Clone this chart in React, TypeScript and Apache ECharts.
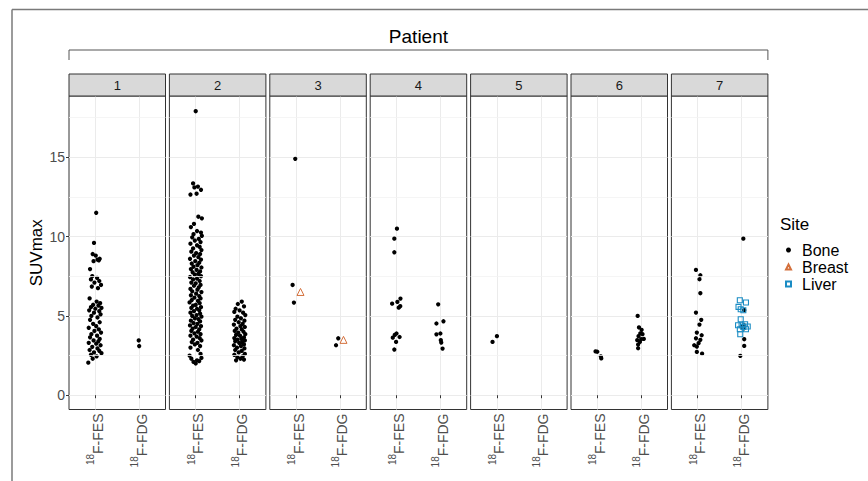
import React, { useEffect, useRef } from 'react';
import * as echarts from 'echarts';

// ---------- data (jitter offset, SUVmax) ----------
const patients = ['1', '2', '3', '4', '5', '6', '7'];
const tracerSup = '18';
const tracerMain = ['F-FES', 'F-FDG'];
const yTicks = [0, 5, 10, 15];
const yMinor = [2.5, 7.5, 12.5, 17.5];
const sites = ['Bone', 'Breast', 'Liver'];

const p1BoneFes = [[0.02,11.5],[-0.03,9.6],[-0.06,8.9],[0.01,8.8],[0.1,8.6],[0.05,8.55],[-0.04,8.45],[0.08,8.5],[-0.12,7.95],[-0.07,7.5],[0.04,7.4],[-0.1,7.3],[0.09,7.2],[-0.02,7.1],[0.13,6.95],[-0.08,6.85],[0.06,6.75],[-0.13,6.1],[0.03,5.9],[0.11,5.8],[-0.05,5.7],[0.07,5.65],[-0.1,5.55],[0.14,5.5],[0.0,5.45],[-0.14,5.35],[0.09,5.3],[-0.03,5.2],[0.12,5.1],[-0.09,5.0],[0.05,4.9],[-0.12,4.75],[0.1,4.6],[-0.05,4.5],[0.02,4.35],[-0.15,4.25],[0.08,4.15],[-0.02,4.05],[0.13,3.95],[-0.09,3.85],[0.04,3.75],[-0.12,3.65],[0.1,3.55],[-0.04,3.45],[0.07,3.4],[-0.15,3.3],[0.02,3.25],[0.12,3.15],[-0.07,3.05],[0.05,2.95],[-0.13,2.85],[0.09,2.8],[-0.03,2.7],[0.14,2.65],[-0.1,2.55],[0.03,2.45],[-0.06,2.3],[-0.16,2.05]];
const p1BoneFdg = [[-0.01,3.45],[0.0,3.1]];

const p2BoneFes = [[0.0,17.9],[-0.06,13.35],[0.05,13.15],[0.12,12.95],[-0.03,13.1],[-0.12,12.65],[0.02,12.7],[0.06,11.25],[0.14,11.15],[-0.04,10.8],[-0.11,10.6],[0.03,10.35],[0.12,10.25],[-0.05,10.15],[0.14,10.05],[-0.08,9.95],[0.07,9.85],[-0.02,9.75],[0.11,9.65],[-0.12,9.55],[0.03,9.45],[0.09,9.35],[-0.06,9.25],[0.13,9.15],[-0.1,9.05],[0.01,8.95],[0.1,8.9],[-0.04,8.8],[0.06,8.7],[-0.13,8.6],[0.12,8.55],[-0.01,8.45],[0.08,8.35],[-0.09,8.3],[0.04,8.2],[-0.05,8.1],[0.13,8.05],[-0.11,7.95],[0.02,7.9],[0.1,7.8],[-0.07,7.75],[0.06,7.65],[-0.02,7.6],[0.12,7.5],[-0.13,7.45],[0.03,7.35],[-0.06,7.3],[0.09,7.2],[-0.1,7.1],[0.0,7.05],[0.11,6.95],[-0.04,6.9],[0.07,6.8],[-0.12,6.7],[0.04,6.65],[-0.08,6.55],[0.13,6.5],[0.01,6.4],[-0.11,6.3],[0.08,6.25],[-0.03,6.15],[0.11,6.1],[-0.09,6.0],[0.05,5.95],[-0.14,5.85],[0.09,5.8],[0.0,5.7],[-0.06,5.65],[0.12,5.55],[-0.1,5.5],[0.03,5.45],[0.08,5.35],[-0.04,5.3],[-0.12,5.2],[0.1,5.15],[0.02,5.05],[-0.08,5.0],[0.13,4.95],[-0.02,4.85],[0.06,4.8],[-0.11,4.7],[0.1,4.65],[-0.05,4.55],[0.04,4.5],[-0.13,4.4],[0.12,4.35],[0.0,4.3],[-0.07,4.2],[0.08,4.15],[-0.1,4.05],[0.05,4.0],[-0.03,3.9],[0.11,3.85],[-0.12,3.75],[0.02,3.7],[0.09,3.6],[-0.06,3.5],[0.13,3.45],[-0.09,3.35],[0.04,3.3],[-0.02,3.2],[0.1,3.1],[-0.12,3.0],[0.05,2.85],[0.11,2.6],[-0.14,2.5],[0.13,2.35],[-0.1,2.3],[0.03,2.2],[-0.05,2.1],[0.08,2.15],[0.0,2.0]];
const p2BoneFdg = [[0.05,5.9],[-0.04,5.75],[0.1,5.6],[-0.09,5.45],[0.0,5.35],[-0.12,5.25],[0.08,5.2],[0.13,5.05],[-0.05,4.95],[0.03,4.85],[-0.1,4.75],[0.11,4.7],[-0.02,4.6],[0.07,4.5],[-0.13,4.45],[0.02,4.35],[0.12,4.3],[-0.07,4.2],[0.05,4.15],[-0.11,4.05],[0.09,4.0],[-0.03,3.95],[0.13,3.85],[-0.08,3.8],[0.01,3.75],[0.1,3.65],[-0.12,3.6],[0.04,3.55],[-0.05,3.5],[0.12,3.45],[-0.1,3.4],[0.06,3.35],[-0.01,3.3],[0.1,3.2],[-0.13,3.15],[0.03,3.1],[-0.06,3.0],[0.11,2.95],[-0.1,2.85],[0.05,2.8],[-0.02,2.7],[0.12,2.6],[-0.12,2.55],[0.07,2.45],[-0.05,2.4],[0.02,2.3],[0.1,2.25],[-0.08,2.2]];

const p3BoneFes = [[-0.02,14.9],[-0.08,6.95],[-0.05,5.84]];
const p3BoneFdg = [[-0.04,3.59],[-0.09,3.15]];
const p3BreastFes = [[0.1,6.51]];
const p3BreastFdg = [[0.08,3.49]];

const p4BoneFes = [[0.01,10.5],[-0.05,9.87],[-0.05,9.01],[-0.1,5.77],[0.09,6.09],[0.02,5.88],[0.05,5.52],[0.085,5.61],[0.0,3.89],[-0.04,3.8],[-0.085,3.63],[0.07,3.67],[-0.01,3.36],[-0.05,2.88]];
const p4BoneFdg = [[-0.05,5.73],[-0.09,4.52],[0.07,4.66],[-0.09,3.84],[0.0,3.89],[0.01,3.47],[0.02,3.32],[0.05,2.94]];

const p5BoneFes = [[0.0,3.72],[-0.1,3.36]];
const p5BoneFdg: number[][] = [];

const p6BoneFes = [[-0.04,2.76],[0.0,2.74],[0.08,2.45],[0.09,2.32]];
const p6BoneFdg = [[-0.08,5.0],[-0.05,4.27],[0.01,4.12],[-0.02,3.9],[0.03,3.85],[-0.06,3.72],[0.06,3.55],[0.0,3.53],[-0.09,3.47],[-0.03,3.36],[-0.07,3.19],[-0.07,2.96]];

const p7BoneFes = [[-0.04,7.9],[0.06,7.56],[0.04,7.31],[0.06,6.43],[-0.04,5.21],[0.08,4.75],[0.04,4.45],[-0.02,3.95],[0.09,3.78],[-0.04,3.59],[0.06,3.49],[0.02,3.28],[-0.08,3.15],[-0.02,3.07],[-0.02,2.73],[0.1,2.62]];
const p7BoneFdg = [[0.04,9.87],[0.06,5.36],[0.0,4.33],[0.06,4.4],[0.05,4.22],[0.06,3.53],[0.06,3.11],[-0.03,2.48]];
const p7LiverFdg = [[-0.04,5.99],[0.1,5.84],[-0.07,5.57],[-0.02,5.42],[0.04,5.36],[-0.02,4.79],[-0.08,4.41],[0.0,4.41],[0.08,4.47],[0.14,4.33],[0.1,4.16],[-0.04,4.16],[-0.03,3.84],[0.04,4.3]];

const boneByPatient = [
  [p1BoneFes, p1BoneFdg], [p2BoneFes, p2BoneFdg], [p3BoneFes, p3BoneFdg], [p4BoneFes, p4BoneFdg],
  [p5BoneFes, p5BoneFdg], [p6BoneFes, p6BoneFdg], [p7BoneFes, p7BoneFdg],
];
const breastByPatient: Record<number, number[][][]> = { 2: [p3BreastFes, p3BreastFdg] };
const liverByPatient: Record<number, number[][][]> = { 6: [[], p7LiverFdg] };

// ---------- layout ----------
const L0 = 69;
const STEP = 100.4;
const PW = 96.5;
const PTOP = 96;
const PH = 313.5;
const FONT = '"Liberation Sans", Arial, sans-serif';
const COLORS = { Bone: '#000000', Breast: '#D4703C', Liver: '#1A8CC4' };

function toPoints(groups: number[][][]) {
  const out: number[][] = [];
  groups.forEach((g, k) => g.forEach(([j, v]) => out.push([k + 1 + j, v])));
  return out;
}

export default function App() {
  const ref = useRef<HTMLDivElement>(null);
  useEffect(() => {
    if (!ref.current) return;
    const chart = echarts.init(ref.current, undefined, { renderer: 'svg' });
    const grids: any[] = [];
    const xAxes: any[] = [];
    const yAxes: any[] = [];
    const series: any[] = [];
    const graphics: any[] = [];

    patients.forEach((p, i) => {
      const left = L0 + i * STEP;
      grids.push({
        left, top: PTOP, width: PW, height: PH, show: true,
        borderColor: '#333333', borderWidth: 1, backgroundColor: '#ffffff',
        containLabel: false, outerBoundsMode: 'none',
      });
      xAxes.push({
        type: 'value', gridIndex: i, min: 0.4, max: 2.6,
        axisLine: { show: false },
        axisTick: { show: true, customValues: [1, 2], length: 3, lineStyle: { color: '#333333' } },
        axisLabel: {
          show: true, customValues: [1, 2], rotate: 90, margin: 4, color: '#4D4D4D',
          fontFamily: FONT,
          formatter: (v: number) => `{s|${tracerSup}}{m|${tracerMain[Math.round(v) - 1]}}`,
          rich: {
            s: { fontSize: 10, color: '#4D4D4D', fontFamily: FONT, verticalAlign: 'top', lineHeight: 19 },
            m: { fontSize: 14, color: '#4D4D4D', fontFamily: FONT, verticalAlign: 'bottom', lineHeight: 19 },
          },
        },
        splitLine: { show: true, lineStyle: { color: '#EBEBEB', width: 1 } },
      });
      yAxes.push({
        type: 'value', gridIndex: i, min: -0.9, max: 18.86,
        name: i === 0 ? 'SUVmax' : '',
        nameLocation: 'middle', nameRotate: 90, nameGap: 24,
        nameTextStyle: { fontSize: 17, color: '#000000', fontFamily: FONT },
        axisLine: { show: false },
        axisTick: { show: i === 0, customValues: yTicks, length: 3, lineStyle: { color: '#333333' } },
        axisLabel: { show: i === 0, customValues: yTicks, fontSize: 14, color: '#4D4D4D', margin: 4, fontFamily: FONT },
        splitLine: { show: true, lineStyle: { color: '#EBEBEB', width: 1 } },
      });
      series.push({
        type: 'scatter', xAxisIndex: i, yAxisIndex: i, data: [], z: 1, silent: true,
        markLine: {
          silent: true, symbol: 'none', label: { show: false },
          lineStyle: { color: '#F3F3F3', width: 0.8, type: 'solid' },
          data: yMinor.map((v) => ({ yAxis: v })),
        },
      });
      series.push({
        name: 'Bone', type: 'scatter', xAxisIndex: i, yAxisIndex: i,
        symbol: 'circle', symbolSize: 4.3, itemStyle: { color: COLORS.Bone, opacity: 1 },
        data: toPoints(boneByPatient[i]),
      });
      if (breastByPatient[i]) {
        series.push({
          name: 'Breast', type: 'scatter', xAxisIndex: i, yAxisIndex: i,
          symbol: 'triangle', symbolSize: 7,
          itemStyle: { color: 'rgba(255,255,255,0)', borderColor: COLORS.Breast, borderWidth: 1, opacity: 1 },
          data: toPoints(breastByPatient[i]),
        });
      }
      if (liverByPatient[i]) {
        series.push({
          name: 'Liver', type: 'scatter', xAxisIndex: i, yAxisIndex: i,
          symbol: 'rect', symbolSize: 5,
          itemStyle: { color: 'rgba(255,255,255,0)', borderColor: COLORS.Liver, borderWidth: 1.1, opacity: 1 },
          data: toPoints(liverByPatient[i]),
        });
      }
      // strip header
      graphics.push({
        type: 'rect', shape: { x: left, y: 74, width: PW, height: PTOP - 74 },
        style: { fill: '#D9D9D9', stroke: '#333333', lineWidth: 1 }, z: 10,
      });
      graphics.push({
        type: 'text', x: left + PW / 2, y: (74 + PTOP) / 2,
        style: { text: p, fontSize: 13, fill: '#1A1A1A', align: 'center', verticalAlign: 'middle', fontFamily: FONT }, z: 11,
      });
    });

    const right = L0 + 6 * STEP + PW;
    graphics.push(
      { type: 'line', shape: { x1: 12, y1: 9.5, x2: 868, y2: 9.5 }, style: { stroke: '#7A7A7A', lineWidth: 1.5 } },
      { type: 'line', shape: { x1: 12, y1: 9.5, x2: 12, y2: 481 }, style: { stroke: '#7A7A7A', lineWidth: 1.5 } },
      {
        type: 'text', x: (L0 + right) / 2, y: 36,
        style: { text: 'Patient', fontSize: 19, fill: '#000000', align: 'center', verticalAlign: 'middle', fontFamily: FONT },
      },
      {
        type: 'polyline', shape: { points: [[L0, 60], [L0, 50], [right, 50], [right, 60]] },
        style: { stroke: '#555555', lineWidth: 1, fill: 'none' },
      },
      {
        type: 'text', x: 780, y: 224,
        style: { text: 'Site', fontSize: 17, fill: '#000000', align: 'left', verticalAlign: 'middle', fontFamily: FONT },
      },
    );

    chart.setOption({
      animation: false,
      backgroundColor: '#ffffff',
      grid: grids,
      xAxis: xAxes,
      yAxis: yAxes,
      series,
      legend: {
        show: true, orient: 'vertical', left: 785, top: 242, padding: 0,
        itemWidth: 5, itemHeight: 5, itemGap: 1,
        selectedMode: false,
        textStyle: { fontSize: 16, color: '#000000', fontFamily: FONT, padding: [0, 0, 0, 6] },
        data: sites.map((s) => ({ name: s })),
      },
      graphic: graphics,
    });
    return () => chart.dispose();
  }, []);
  return <div ref={ref} style={{ position: 'absolute', left: 0, top: 0, width: 868, height: 481 }} />;
}
